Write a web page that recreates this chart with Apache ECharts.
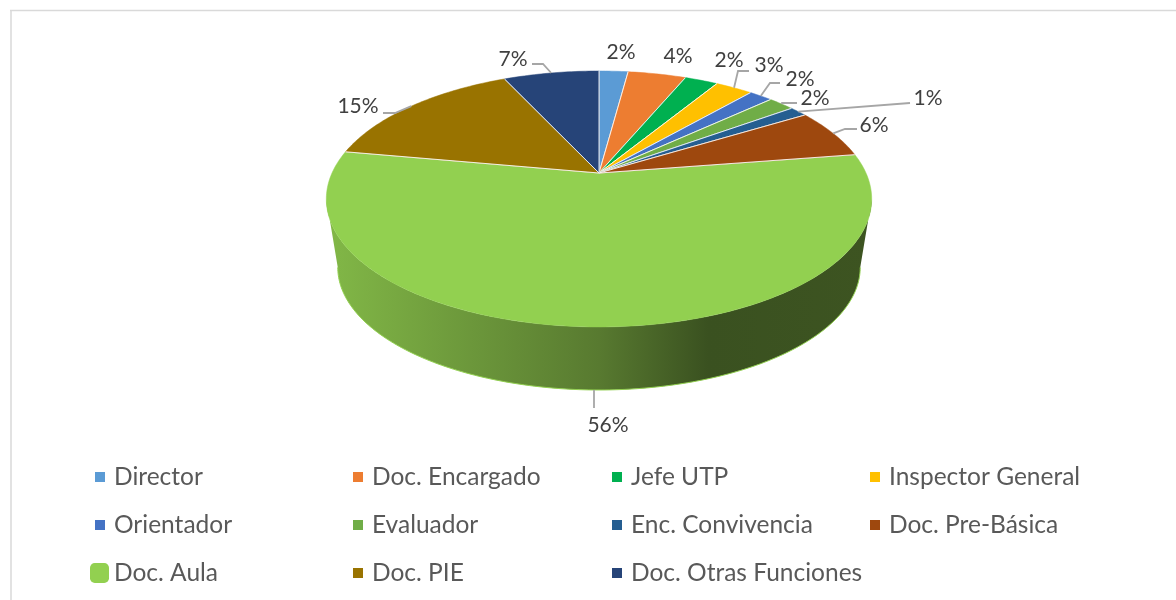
<!DOCTYPE html>
<html>
<head>
<meta charset="utf-8">
<style>html,body{margin:0;padding:0;background:#fff}#c{width:1176px;height:600px}</style>
<script src="https://cdn.jsdelivr.net/npm/echarts@6/dist/echarts.min.js"></script>
</head>
<body>
<div id="c"></div>
<script>
// ---- data ----
const categories = ['Director','Doc. Encargado','Jefe UTP','Inspector General','Orientador','Evaluador','Enc. Convivencia','Doc. Pre-Básica','Doc. Aula','Doc. PIE','Doc. Otras Funciones'];
const percents = [2.1,4.2,2.4,2.7,1.7,1.9,1.3,6.3,55.5,15.3,6.9];
// ---- styles / layout (separate from data) ----
const colors = ['#5B9BD5','#ED7D31','#00B050','#FFC000','#4472C4','#70AD47','#255E91','#9E480E','#92D050','#997300','#264478'];
const legendCols = [95,353,612,870];
const legendRows = [476,524,572];
// label centre, then optional leader elbow and leader start
const labelLayout = [
  {x:621,y:52},
  {x:678,y:56},
  {x:729,y:60},
  {x:769,y:65,line:[[749,71],[738,71]]},
  {x:800,y:79,line:[[780,83],[770,83]]},
  {x:815,y:98,line:[[797,103],[782,103]]},
  {x:928,y:98,line:[[910,103]]},
  {x:874,y:125,line:[[857,129],[845,129]]},
  {x:608,y:425,line:[[594,408]],onBase:true},
  {x:358,y:106,line:[[383,113],[395,113]]},
  {x:513,y:59,line:[[532,64],[543,64]]}
];
const FONT = 'Lato';
// projected pie disc (tilted circle seen in perspective)
const CX = 599, APEX_Y = 173, AX = 267, BY = 122.7, K = 0.203;
const BASE_SCALE = 0.958, TOP_MID_Y = 199, BASE_MID_Y = 267.4;
function proj(pct){
  const t = pct/100*2*Math.PI, u = Math.sin(t), v = Math.cos(t), w = 1+K*v;
  return [CX+AX*u/w, APEX_Y-BY*v/w];
}
function toBase(p){ return [CX+(p[0]-CX)*BASE_SCALE, BASE_MID_Y+(p[1]-TOP_MID_Y)*BASE_SCALE]; }
function arc(a,b){ const n=Math.max(2,Math.ceil((b-a)*4)), r=[]; for(let i=0;i<=n;i++) r.push(proj(a+(b-a)*i/n)); return r; }
const starts = []; percents.reduce((s,v,i)=>{starts[i]=s;return s+v;},0);
const total = percents.reduce((a,b)=>a+b,0);

function makeRender(i){
  return function(params, api){
    const val = api.value(0), a = starts[i]/total*100, b = a+val/total*100;
    const rim = arc(a,b), apex=[CX,APEX_Y], kids=[];
    const color = api.visual('color');
    if(i===8){
      // visible outer wall of the big slice, between the two silhouette points
      const tilt = Math.acos(-K)/(2*Math.PI)*100, from=tilt, to=100-tilt;
      const front = arc(from,to), back = front.map(toBase);
      kids.push({type:'polygon',shape:{points:front.concat(back.slice().reverse())},
        style:{fill:new echarts.graphic.LinearGradient(0,0,1,0,[
          {offset:0,color:'#82B847'},{offset:0.5,color:'#587A30'},{offset:0.7,color:'#3A5120'},{offset:1,color:'#3D5421'}])}});
      kids.push({type:'polyline',shape:{points:back},style:{fill:'none',stroke:'#92D050',lineWidth:1}});
    }
    kids.push({type:'polygon',shape:{points:[apex].concat(rim)},style:{fill:color,stroke:color,lineWidth:0.5}});
    kids.push({type:'polyline',shape:{points:[rim[0],apex,rim[rim.length-1]]},style:{fill:'none',stroke:'rgba(255,255,255,0.85)',lineWidth:1}});
    const L = labelLayout[i];
    if(L.line){
      let end = proj((a+b)/2);
      if(L.onBase){ end = toBase(end); end = [L.line[0][0], end[1]]; }
      kids.push({type:'polyline',z2:5,shape:{points:L.line.concat([end])},style:{fill:'none',stroke:'#A6A6A6',lineWidth:1.8}});
    }
    kids.push({type:'text',z2:6,style:{x:L.x,y:L.y,text:Math.round(val)+'%',fill:'#404040',font:'21px '+FONT,align:'center',verticalAlign:'middle'}});
    return {type:'group',children:kids};
  };
}
// draw the labels above every slice: big slice first
const order = [8,0,1,2,3,4,5,6,7,9,10];
const series = order.map(i=>({
  name:categories[i],type:'custom',coordinateSystem:'none',silent:true,animation:false,clip:false,
  itemStyle:{color:colors[i]},renderItem:makeRender(i),data:[[percents[i]]],z:i===8?1:2
}));
const legends = categories.map((name,i)=>{
  const big = i===8, col=i%4, row=Math.floor(i/4);
  return {
    data:[name],selectedMode:false,icon:big?'roundRect':'rect',padding:0,
    left:big?90:legendCols[col],top:legendRows[row]-12,
    itemWidth:big?19:10,itemHeight:big?20:10,
    textStyle:{color:'#595959',fontFamily:FONT,fontSize:24.5,lineHeight:26,padding:[0,0,0,big?0:4]}
  };
});
const chart = echarts.init(document.getElementById('c'),null,{renderer:'canvas'});
chart.setOption({
  animation:false,backgroundColor:'#fff',
  legend:legends,series:series,
  graphic:[
    {type:'line',silent:true,shape:{x1:10,y1:10.5,x2:1176,y2:10.5},style:{stroke:'#D9D9D9',lineWidth:1.5}},
    {type:'line',silent:true,shape:{x1:11,y1:10,x2:11,y2:600},style:{stroke:'#D9D9D9',lineWidth:1.5}}
  ]
});
</script>
</body>
</html>
